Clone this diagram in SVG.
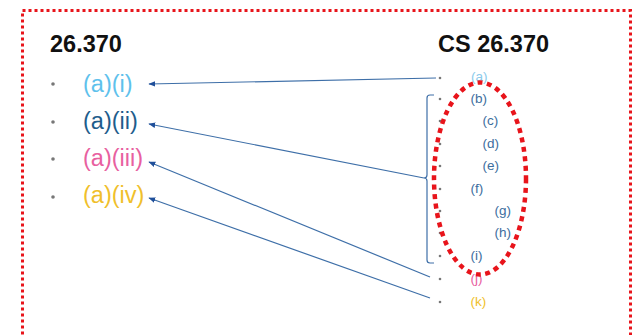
<svg xmlns="http://www.w3.org/2000/svg" width="632" height="335" viewBox="0 0 632 335">
<defs>
<style>
.title{font-family:"Liberation Sans",Arial,sans-serif;font-weight:bold;font-size:23.5px;fill:#111}
.big{font-family:"Liberation Sans",Arial,sans-serif;font-size:23.5px}
.small{font-family:"Liberation Sans",Arial,sans-serif;font-size:13.5px}
.bul{fill:#777}
.conn{stroke:#3e6fa8;stroke-width:1.2;fill:none}
</style>
<marker id="ah" viewBox="0 0 10 10" refX="9" refY="5" markerWidth="7" markerHeight="7" orient="auto" markerUnits="userSpaceOnUse">
<path d="M0,1 L10,5 L0,9 Z" fill="#1f4f9a"/>
</marker>
</defs>
<rect x="0" y="0" width="632" height="335" fill="#fff"/>
<rect x="22.5" y="10.5" width="608" height="340" fill="none" stroke="#e8141b" stroke-width="3" stroke-dasharray="3 3"/>
<text class="title" x="50" y="52">26.370</text>
<text class="title" x="438" y="52">CS 26.370</text>
<g id="left-i"><circle class="bul" cx="53" cy="84" r="1.8"/><text class="big" x="83" y="92" fill="#5ec1ec">(a)(i)</text></g>
<g id="left-ii"><circle class="bul" cx="53" cy="122" r="1.8"/><text class="big" x="83" y="129" fill="#1e5d8c">(a)(ii)</text></g>
<g id="left-iii"><circle class="bul" cx="53" cy="159" r="1.8"/><text class="big" x="83" y="166" fill="#e8609f">(a)(iii)</text></g>
<g id="left-iv"><circle class="bul" cx="53" cy="197" r="1.8"/><text class="big" x="83" y="203" fill="#f0bf2c">(a)(iv)</text></g>
<g id="right-a"><circle class="bul" cx="440" cy="78" r="1.3"/><text class="small" x="471" y="81" fill="#8ccbec">(a)</text></g>
<g id="right-b"><circle class="bul" cx="440" cy="99" r="1.3"/><text class="small" x="470.5" y="103" fill="#3d6e9e">(b)</text></g>
<g id="right-c"><circle class="bul" cx="440" cy="121" r="1.3"/><text class="small" x="482.5" y="125" fill="#3d6e9e">(c)</text></g>
<g id="right-d"><circle class="bul" cx="440" cy="144" r="1.3"/><text class="small" x="482.5" y="148" fill="#3d6e9e">(d)</text></g>
<g id="right-e"><circle class="bul" cx="440" cy="166" r="1.3"/><text class="small" x="482.5" y="170" fill="#3d6e9e">(e)</text></g>
<g id="right-f"><circle class="bul" cx="440" cy="189" r="1.3"/><text class="small" x="470.5" y="193" fill="#3d6e9e">(f)</text></g>
<g id="right-g"><circle class="bul" cx="440" cy="211" r="1.3"/><text class="small" x="494.5" y="215" fill="#3d6e9e">(g)</text></g>
<g id="right-h"><circle class="bul" cx="440" cy="233" r="1.3"/><text class="small" x="494.5" y="237" fill="#3d6e9e">(h)</text></g>
<g id="right-i"><circle class="bul" cx="440" cy="256" r="1.3"/><text class="small" x="470.5" y="260" fill="#3d6e9e">(i)</text></g>
<g id="right-j"><circle class="bul" cx="440" cy="279" r="1.3"/><text class="small" x="470.5" y="283" fill="#e8609f">(j)</text></g>
<g id="right-k"><circle class="bul" cx="440" cy="302" r="1.3"/><text class="small" x="470.5" y="306" fill="#f0bf2c">(k)</text></g>
<g id="connectors">
<path class="conn" d="M434,95 L430,95 Q427,95 427,98 L427,175 Q427,178 424,178 Q427,178 427,181 L427,260 Q427,263 430,263 L434,263"/>
<line class="conn" x1="436" y1="78" x2="149" y2="84" marker-end="url(#ah)"/>
<line class="conn" x1="424" y1="178" x2="149" y2="124" marker-end="url(#ah)"/>
<line class="conn" x1="430" y1="277" x2="149" y2="162" marker-end="url(#ah)"/>
<line class="conn" x1="430" y1="298" x2="149" y2="198" marker-end="url(#ah)"/>
</g>
<ellipse id="highlight" cx="480" cy="178.5" rx="46" ry="96" fill="none" stroke="#e8141b" stroke-width="4.5" stroke-dasharray="5 4.5"/>
</svg>
